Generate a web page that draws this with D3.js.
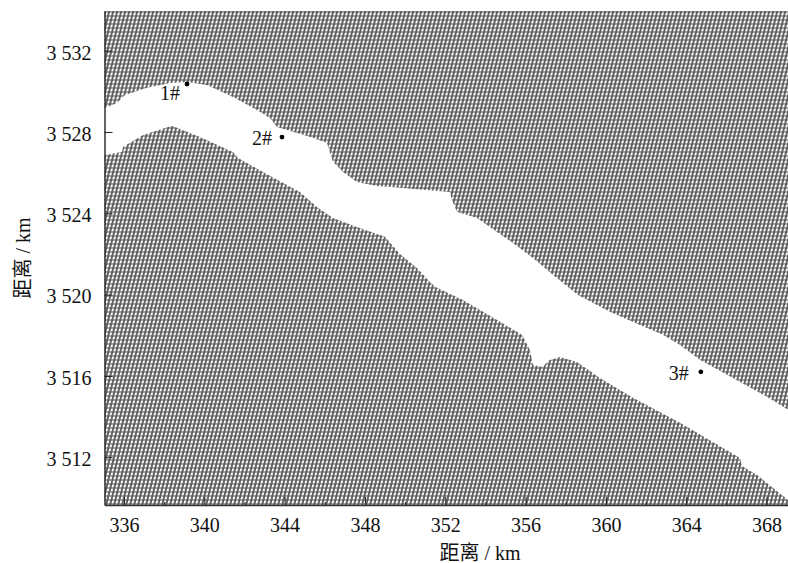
<!DOCTYPE html>
<html>
<head>
<meta charset="utf-8">
<script src="https://cdn.jsdelivr.net/npm/d3@7"></script>
<style>
  html, body { margin: 0; padding: 0; background: #fff; }
  svg { display: block; }
  text { font-family: "Liberation Serif", "Noto Sans CJK SC", serif; fill: #111; }
</style>
</head>
<body>
<div id="chart"></div>
<script>
// Bank outlines in km
const upperX = [335.03, 335.65, 336.05, 337.15, 338.29, 339.14, 340.13, 341.43, 342.62, 343.27, 343.62, 344.62, 345.41, 346.11, 346.41, 346.91, 347.60, 348.60, 349.74, 352.23, 352.33, 352.58, 353.58, 354.72, 355.37, 356.37, 357.36, 358.61, 360.20, 361.70, 362.84, 363.69, 364.68, 366.33, 368.02, 369.07];
const upperY = [3529.18, 3529.43, 3529.82, 3530.17, 3530.41, 3530.46, 3530.31, 3529.72, 3529.08, 3528.69, 3528.25, 3527.95, 3527.71, 3527.46, 3526.53, 3526.03, 3525.54, 3525.34, 3525.25, 3525.05, 3524.66, 3524.07, 3523.77, 3522.98, 3522.54, 3521.80, 3520.97, 3519.98, 3519.15, 3518.51, 3518.02, 3517.52, 3516.79, 3515.90, 3514.97, 3514.33];
const lowerX = [335.03, 335.90, 335.95, 336.95, 338.39, 339.78, 341.43, 341.68, 342.92, 344.76, 345.61, 346.41, 347.60, 349.00, 349.74, 350.59, 351.24, 351.49, 352.88, 353.73, 354.33, 355.82, 356.22, 356.37, 356.87, 357.12, 357.71, 358.56, 359.70, 361.35, 363.69, 366.68, 366.78, 367.53, 369.07];
const lowerY = [3526.87, 3527.02, 3527.26, 3527.85, 3528.30, 3527.75, 3527.02, 3526.72, 3526.03, 3525.05, 3524.31, 3523.77, 3523.33, 3522.84, 3522.00, 3521.31, 3520.62, 3520.38, 3519.74, 3519.24, 3518.90, 3518.02, 3517.28, 3516.54, 3516.44, 3516.74, 3516.93, 3516.69, 3515.90, 3514.92, 3513.69, 3511.96, 3511.57, 3511.13, 3509.90];

const wellNames = ['1#', '2#', '3#'];
const wellX = [339.14, 343.87, 364.73];
const wellY = [3530.36, 3527.75, 3516.20];

const xTicks = [336, 340, 344, 348, 352, 356, 360, 364, 368];
const xMinorTicks = [338, 342, 346, 350, 354, 358, 362, 366];
const yTicks = [3532, 3528, 3524, 3520, 3516, 3512];

const xDomain = [335.03, 369.07];
const yDomain = [3533.95, 3509.65];

const width = 788;
const height = 563;

const svg = d3.select('#chart').append('svg')
  .attr('width', width)
  .attr('height', height);

const x = d3.scaleLinear().domain(xDomain).range([104.5, 788]);
const y = d3.scaleLinear().domain(yDomain).range([11, 505]);

// Hatch used for the two banks
const pattern = svg.append('defs').append('pattern')
  .attr('id', 'hatch')
  .attr('patternUnits', 'userSpaceOnUse')
  .attr('width', 4)
  .attr('height', 4)
  .attr('patternTransform', 'skewX(-14)');
pattern.append('rect').attr('width', 4).attr('height', 4).attr('fill', '#5a5a5a');
pattern.append('rect').attr('x', 1).attr('y', 0.5).attr('width', 2.1).attr('height', 3).attr('fill', '#fff');

const line = d3.line().x(d => x(d[0])).y(d => y(d[1]));

const upperBank = upperX.map((v, i) => [v, upperY[i]])
  .concat([[xDomain[1], yDomain[0]], [xDomain[0], yDomain[0]]]);
const lowerBank = lowerX.map((v, i) => [v, lowerY[i]])
  .concat([[xDomain[1], yDomain[1]], [xDomain[0], yDomain[1]]]);

svg.selectAll('path.bank')
  .data([upperBank, lowerBank])
  .enter()
  .append('path')
  .attr('class', 'bank')
  .attr('d', d => line(d) + 'Z')
  .attr('fill', 'url(#hatch)');

// Axes, ticks point into the plot
const xAxis = svg.append('g')
  .attr('transform', `translate(0,${y(yDomain[1])})`)
  .call(d3.axisBottom(x).tickValues(xTicks).tickSize(-8).tickSizeOuter(0).tickPadding(13).tickFormat(d3.format('d')));
const xMinor = svg.append('g')
  .attr('transform', `translate(0,${y(yDomain[1])})`)
  .call(d3.axisBottom(x).tickValues(xMinorTicks).tickSize(-3).tickSizeOuter(0).tickFormat(''));
xMinor.select('.domain').remove();

const yAxis = svg.append('g')
  .attr('transform', `translate(${x(xDomain[0])},0)`)
  .call(d3.axisLeft(y).tickValues(yTicks).tickSize(-8).tickSizeOuter(0).tickPadding(13)
    .tickFormat(d => `${Math.floor(d / 1000)} ${d % 1000}`));
yAxis.selectAll('text').attr('transform', 'translate(0,2)');

svg.selectAll('.domain').attr('stroke', '#333').attr('stroke-width', 1.5);
svg.selectAll('.tick line').attr('stroke', '#222');
svg.selectAll('.tick text').attr('font-size', 20).attr('font-family', '"Liberation Serif", serif').attr('fill', '#111');

// Well markers
svg.selectAll('circle.well')
  .data(wellX)
  .enter()
  .append('circle')
  .attr('class', 'well')
  .attr('cx', d => x(d))
  .attr('cy', (d, i) => y(wellY[i]))
  .attr('r', 2.4)
  .attr('fill', '#000');

const labelDx = [-7, -10, -12];
const labelDy = [16, 8, 8];
svg.selectAll('text.well-label')
  .data(wellNames)
  .enter()
  .append('text')
  .attr('class', 'well-label')
  .attr('x', (d, i) => x(wellX[i]) + labelDx[i])
  .attr('y', (d, i) => y(wellY[i]) + labelDy[i])
  .attr('text-anchor', 'end')
  .attr('font-size', 20)
  .text(d => d);

// Axis titles
svg.append('text')
  .attr('x', 480)
  .attr('y', 560)
  .attr('text-anchor', 'middle')
  .attr('font-size', 20)
  .text('距离 / km');

svg.append('text')
  .attr('transform', 'translate(30,258) rotate(-90)')
  .attr('text-anchor', 'middle')
  .attr('font-size', 20)
  .text('距离 / km');
</script>
</body>
</html>
